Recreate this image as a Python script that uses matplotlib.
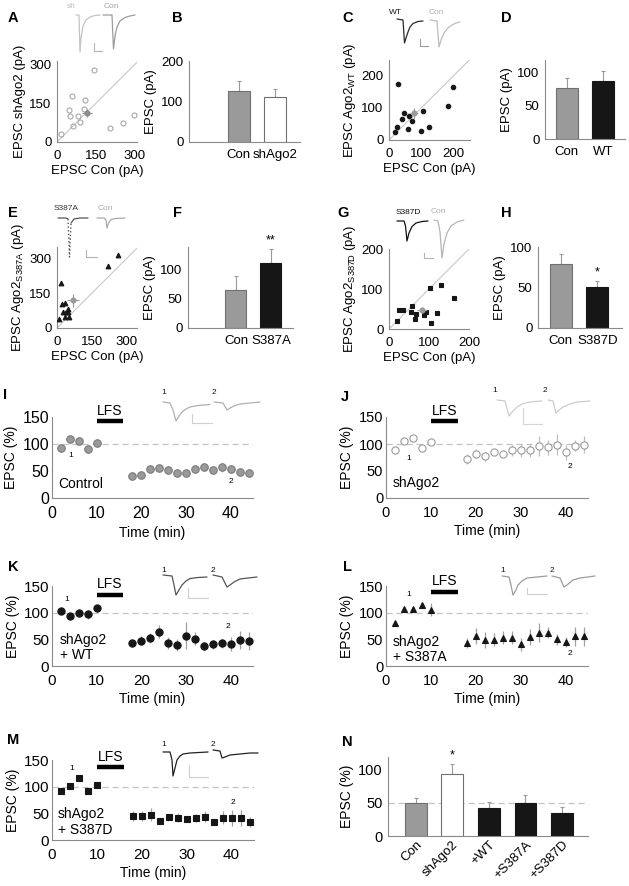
import matplotlib
matplotlib.use("Agg")
import matplotlib.pyplot as plt

plt.rcParams['font.family'] = ['Liberation Sans', 'DejaVu Sans']
plt.rcParams['mathtext.fontset'] = 'custom'
plt.rcParams['mathtext.rm'] = 'Liberation Sans'
plt.rcParams['mathtext.it'] = 'Liberation Sans'

# ---------------- data ----------------
A_con = [16, 145, 60, 47, 50, 108, 103, 83, 90, 63, 206, 256, 298]
A_sh = [33, 280, 177, 124, 100, 163, 130, 100, 77, 63, 55, 72, 104]
A_mean = [115, 113]
A_sem = [20, 16]

B_labels = ['Con', 'shAgo2']
B_vals = [125, 112]
B_err = [25, 20]

C_con = [29, 26, 18, 40, 47, 63, 58, 72, 105, 100, 124, 182, 198]
C_wt = [174, 40, 25, 65, 84, 74, 35, 60, 92, 29, 40, 105, 165]
C_mean = [78, 84]
C_sem = [13, 17]

D_labels = ['Con', 'WT']
D_vals = [76.5, 87.5]
D_err = [15, 14.5]

E_con = [19, 9, 23, 33, 26, 37, 46, 47, 36, 50, 221, 264]
E_a = [196, 40, 103, 106, 69, 71, 83, 69, 49, 47, 269, 314]
E_mean = [69, 119]
E_sem = [28, 30]

F_labels = ['Con', 'S387A']
F_vals = [66, 111]
F_err = [24, 25]

G_con = [21, 26, 36, 57, 55, 68, 66, 88, 93, 102, 130, 121, 104, 162]
G_d = [21, 48, 48, 57, 42, 38, 26, 36, 42, 103, 109, 40, 15, 78]
G_mean = [82, 48]
G_sem = [12, 8]

H_labels = ['Con', 'S387D']
H_vals = [80, 51]
H_err = [12, 8]

time_min = [2, 4, 6, 8, 10, 18, 20, 22, 24, 26, 28, 30, 32, 34, 36, 38, 40, 42, 44]
I_vals = [93, 109, 105, 91, 102, 40, 42, 54, 55, 51, 46, 47, 54, 57, 51, 57, 53, 48, 47]
I_err = [3, 3, 3, 3, 3, 4, 4, 5, 7, 5, 4, 4, 4, 6, 4, 8, 6, 5, 4]
J_vals = [89.5, 105, 112, 93, 104, 72, 82, 77, 86, 81, 88, 88, 88, 96, 94, 99, 85, 97, 99]
J_err = [3, 3, 3, 3, 3, 9, 8, 8, 5, 5, 10, 12, 12, 18, 14, 20, 14, 10, 16]
K_vals = [103, 94, 100, 97, 109, 43, 47.5, 53, 64, 43, 39, 57, 51, 37.5, 40.5, 42.5, 40.5, 48, 47.5]
K_err = [3, 3, 7, 8, 3, 8, 8, 9, 12, 11, 11, 26, 12, 8, 8, 9, 13, 17, 17]
L_vals = [81, 107.5, 106, 115, 105.5, 43, 55.5, 48, 49, 53, 53, 40.5, 54, 62.5, 62.5, 50, 45, 55.5, 55.5]
L_err = [2, 3, 3, 3, 12, 10, 15, 15, 12, 12, 12, 12, 15, 18, 10, 10, 10, 18, 18]
M_vals = [92, 101, 115.5, 92, 104, 45, 45, 47.5, 36, 43, 42, 39, 41, 44, 34, 42, 42, 42, 34]
M_err = [3, 3, 3, 3, 3, 10, 10, 12, 5, 5, 8, 6, 8, 10, 6, 12, 15, 15, 10]
LFS_span = [10, 16]

N_labels = ['Con', 'shAgo2', '+WT', '+S387A', '+S387D']
N_vals = [49, 94, 41.5, 50, 34]
N_err = [7.5, 14, 10, 12.5, 10]

# ---------------- layout helpers ----------------
W, H = 629, 886
fig = plt.figure(figsize=(W / 100, H / 100), dpi=100)

SPINE = '#8a8a8a'
GRAYBAR = '#9a9a9a'
BLACK = '#161616'


def add_ax(l, r, t, b):
    return fig.add_axes([l / W, 1 - b / H, (r - l) / W, (b - t) / H])


def style(ax, fs, xpad=5, ypad=3):
    for s in ('top', 'right'):
        ax.spines[s].set_visible(False)
    for s in ('left', 'bottom'):
        ax.spines[s].set_color(SPINE)
        ax.spines[s].set_linewidth(0.8)
    ax.tick_params(axis='both', length=0, labelsize=fs)
    ax.tick_params(axis='x', pad=xpad)
    ax.tick_params(axis='y', pad=ypad)


def scatter_panel(ax, x, y, mean, sem, lim, ticks, marker, face, edge, ms,
                  mcolor, xlabel, ylabel):
    ax.plot([0, lim[0]], [0, lim[0]], color='#c8c8c8', lw=0.8, zorder=1)
    ax.plot(x, y, linestyle='none', marker=marker, ms=ms, mfc=face, mec=edge,
            mew=0.8, zorder=3)
    ax.errorbar([mean[0]], [mean[1]], xerr=[sem[0]], yerr=[sem[1]], fmt='o',
                ms=3.4, color=mcolor, ecolor=mcolor, elinewidth=0.8, capsize=0,
                zorder=4)
    ax.set_xlim(0, lim[0])
    ax.set_ylim(0, lim[1])
    ax.set_xticks(ticks)
    ax.set_yticks(ticks)
    style(ax, 9.5, xpad=6, ypad=4)
    ax.set_xlabel(xlabel, fontsize=9.5, labelpad=2)
    ax.set_ylabel(ylabel, fontsize=9.5, labelpad=2)


def bar_panel(ax, labels, vals, errs, colors, edges, xlim, ylim, yticks,
              star=None, star_idx=None, rot=0):
    xs = list(range(len(vals)))
    ax.bar(xs, vals, width=0.6, color=colors, edgecolor=edges, linewidth=0.8,
           zorder=2)
    ax.errorbar(xs, vals, yerr=[[0] * len(vals), errs], fmt='none',
                ecolor='#9a9a9a', elinewidth=0.8, capsize=1.5, capthick=0.8,
                zorder=1)
    if star:
        ax.text(star_idx, vals[star_idx] + errs[star_idx] + ylim * 0.03, star,
                ha='center', va='bottom', fontsize=9)
    ax.set_xlim(*xlim)
    ax.set_ylim(0, ylim)
    ax.set_yticks(yticks)
    ax.set_xticks(xs)
    style(ax, 9.5, xpad=5, ypad=4)
    if rot:
        ax.set_xticklabels(labels, rotation=rot, ha='right',
                           rotation_mode='anchor')
    else:
        ax.set_xticklabels(labels)


def ltp_panel(ax, vals, errs, marker, face, edge, ecol, ms, note, note_xy,
              lab1, lab2, lfs_y, tick_fs=10.5):
    ax.axhline(100, color='#c4c4c4', lw=0.9, ls=(0, (5, 3)), zorder=1)
    ax.errorbar(time_min, vals, yerr=errs, fmt='none', ecolor=ecol,
                elinewidth=0.9, capsize=0, zorder=2)
    ax.plot(time_min, vals, linestyle='none', marker=marker, ms=ms, mfc=face,
            mec=edge, mew=0.8, zorder=3)
    ax.plot(LFS_span, [lfs_y, lfs_y], color='black', lw=3.2,
            solid_capstyle='butt', clip_on=False)
    ax.text(sum(LFS_span) / 2, lfs_y + 7, 'LFS', ha='center', va='bottom',
            fontsize=10)
    ax.text(note_xy[0], note_xy[1], note, ha='left', va='center',
            fontsize=10, linespacing=1.15)
    ax.text(lab1[0], lab1[1], '1', ha='center', va='center', fontsize=6)
    ax.text(lab2[0], lab2[1], '2', ha='center', va='center', fontsize=6)
    ax.set_xlim(0, 45)
    ax.set_ylim(0, 150)
    ax.set_xticks([0, 10, 20, 30, 40])
    ax.set_yticks([0, 50, 100, 150])
    style(ax, tick_fs, xpad=6, ypad=2)
    ax.set_ylabel('EPSC (%)', fontsize=10, labelpad=3)
    ax.set_xlabel('Time (min)', fontsize=10, labelpad=3)


# ---------------- panels ----------------
axA = add_ax(57, 137, 61, 142)
scatter_panel(axA, A_con, A_sh, A_mean, A_sem, (310, 315), [0, 150, 300],
              'o', 'none', '#a8a8a8', 3.6, '#8c8c8c',
              'EPSC Con (pA)', 'EPSC shAgo2 (pA)')

axB = add_ax(189, 300, 61, 142)
bar_panel(axB, B_labels, B_vals, B_err, [GRAYBAR, 'white'], ['#707070', '#707070'],
          (-1.35, 1.67), 200, [0, 100, 200])
axB.set_ylabel('EPSC (pA)', fontsize=9.5, labelpad=3)

axC = add_ax(389, 470, 60, 140)
scatter_panel(axC, C_con, C_wt, C_mean, C_sem, (252, 250), [0, 100, 200],
              'o', BLACK, BLACK, 3.2, '#9a9a9a',
              'EPSC Con (pA)', r'EPSC Ago2$_{\mathregular{WT}}$ (pA)')

axD = add_ax(545, 625, 60, 139)
bar_panel(axD, D_labels, D_vals, D_err, [GRAYBAR, BLACK], ['#707070', BLACK],
          (-0.59, 1.59), 119, [0, 50, 100])
axD.set_ylabel('EPSC (pA)', fontsize=9.5, labelpad=3)

axE = add_ax(57, 137, 247, 328)
scatter_panel(axE, E_con, E_a, E_mean, E_sem, (345, 350), [0, 150, 300],
              '^', BLACK, BLACK, 3.4, '#9a9a9a',
              'EPSC Con (pA)', r'EPSC Ago2$_{\mathregular{S387A}}$ (pA)')

axF = add_ax(188, 293, 247, 328)
bar_panel(axF, F_labels, F_vals, F_err, [GRAYBAR, BLACK], ['#707070', BLACK],
          (-1.37, 1.63), 139, [0, 50, 100], star='**', star_idx=1)
axF.set_ylabel('EPSC (pA)', fontsize=9.5, labelpad=3)

axG = add_ax(389, 469, 249, 329)
scatter_panel(axG, G_con, G_d, G_mean, G_sem, (200, 200), [0, 100, 200],
              's', BLACK, BLACK, 3.2, '#9a9a9a',
              'EPSC Con (pA)', r'EPSC Ago2$_{\mathregular{S387D}}$ (pA)')

axH = add_ax(538, 622, 247, 328)
bar_panel(axH, H_labels, H_vals, H_err, [GRAYBAR, BLACK], ['#707070', BLACK],
          (-0.62, 1.67), 101, [0, 50, 100], star='*', star_idx=1)
axH.set_ylabel('EPSC (pA)', fontsize=9.5, labelpad=3)

axI = add_ax(52, 253, 417, 498)
ltp_panel(axI, I_vals, I_err, 'o', '#9a9a9a', '#7a7a7a', '#b0b0b0', 5.4,
          'Control', (1.3, 26.5), (4.1, 79), (40.1, 30), 142, tick_fs=11.5)

axJ = add_ax(386, 588, 417, 498)
ltp_panel(axJ, J_vals, J_err, 'o', 'white', '#9a9a9a', '#bdbdbd', 5.2,
          'shAgo2', (1.5, 28), (5, 74), (41, 59), 142, tick_fs=10.5)

axK = add_ax(52, 253, 586, 666)
ltp_panel(axK, K_vals, K_err, 'o', BLACK, BLACK, '#a0a0a0', 5.2,
          'shAgo2\n+ WT', (1.7, 35), (3.4, 125), (39.4, 74), 134, tick_fs=11)

axL = add_ax(386, 588, 586, 666)
ltp_panel(axL, L_vals, L_err, '^', BLACK, BLACK, '#a0a0a0', 5.0,
          'shAgo2\n+ S387A', (1.5, 31), (5, 134), (41, 23), 139, tick_fs=10.5)

axM = add_ax(52, 254, 760, 840)
ltp_panel(axM, M_vals, M_err, 's', BLACK, BLACK, '#a0a0a0', 4.4,
          'shAgo2\n+ S387D', (1.3, 34), (4.3, 134), (40.4, 71), 136, tick_fs=11)

axN = add_ax(388, 588, 757, 836)
bar_panel(axN, N_labels, N_vals, N_err,
          [GRAYBAR, 'white', BLACK, BLACK, BLACK],
          ['#707070', '#707070', BLACK, BLACK, BLACK],
          (-0.76, 4.71), 119, [0, 50, 100], star='*', star_idx=1, rot=45)
axN.axhline(50, color='#c4c4c4', lw=0.9, ls=(0, (5, 3)), zorder=0)
axN.set_ylabel('EPSC (%)', fontsize=10, labelpad=3)
axN.tick_params(axis='y', labelsize=10.5)
axN.tick_params(axis='x', labelsize=9.5, pad=2)

# ---------------- panel letters ----------------
letters = [('A', 13, 18), ('B', 177, 18), ('C', 348, 18), ('D', 506, 18),
           ('E', 13, 213), ('F', 177, 213), ('G', 343, 213), ('H', 506, 213),
           ('I', 5, 395), ('J', 345, 397), ('K', 13, 567), ('L', 347, 567),
           ('M', 13, 740), ('N', 347, 742)]
for t, x, y in letters:
    fig.text(x / W, 1 - y / H, t, fontsize=10.5, fontweight='bold',
             ha='center', va='center')

# ---------------- example traces (figure pixel overlay) ----------------
ov = fig.add_axes([0, 0, 1, 1], zorder=5)
ov.set_xlim(0, W)
ov.set_ylim(H, 0)
ov.axis('off')


def trace(pts, color, lw=0.9, ls='-'):
    ov.plot([p[0] for p in pts], [p[1] for p in pts], color=color, lw=lw,
            ls=ls, solid_joinstyle='round', solid_capstyle='round')


def scalebar(x, y0, y1, x1, color='#b5b5b5'):
    ov.plot([x, x, x1], [y0, y1, y1], color=color, lw=0.8)


def tlabel(x, y, s, color, fs=6):
    ov.text(x, y, s, color=color, fontsize=fs, ha='center', va='center')


# A
tlabel(71, 6, 'sh', '#bdbdbd')
tlabel(111, 6, 'Con', '#a5a5a5')
trace([(76, 15), (79, 15), (80, 52), (81, 38), (83, 26), (86, 20), (90, 17),
       (95, 15.5), (100, 15)], '#c4c4c4')
trace([(103, 15), (112, 15), (113.5, 49), (115, 36), (117, 27), (120, 21),
       (125, 17.5), (130, 16), (135, 15)], '#9c9c9c')
scalebar(94, 43, 51, 102)

# C
tlabel(395, 12, 'WT', '#111111')
tlabel(436, 12, 'Con', '#b0b0b0')
trace([(397, 19), (403, 20), (404.5, 43), (406, 38), (408, 32), (410, 27),
       (413, 23.5), (418, 21.5), (423, 21)], '#2a2a2a')
trace([(430, 20), (437, 21), (439, 47), (441, 40), (444, 33), (448, 28),
       (452, 25), (456, 23), (460, 22)], '#bdbdbd')
scalebar(420, 39, 46, 428, '#9a9a9a')

# E
tlabel(66, 208, 'S387A', '#333333')
tlabel(105, 208, 'Con', '#ababab')
trace([(58, 218), (66, 218), (68, 219)], '#555555')
trace([(68, 219), (69.5, 257), (71, 223)], '#555555', lw=1.0, ls=':')
trace([(71, 223), (74, 219), (80, 218), (88, 218)], '#555555')
trace([(97, 218), (104, 218), (106, 220), (107, 228), (108.5, 223),
       (111, 219.5), (115, 218.5), (125, 218)], '#aaaaaa')
scalebar(86, 250, 257, 97)

# G
tlabel(408, 212, 'S387D', '#111111')
tlabel(438, 211, 'Con', '#b0b0b0')
trace([(397, 221), (404, 221), (405.5, 226), (407, 241), (409, 233),
       (412, 226.5), (416, 223), (422, 221.5), (428, 221)], '#111111')
trace([(434, 220), (438, 221), (440, 232), (442, 258), (444, 244),
       (447, 233), (451, 226), (457, 222), (464, 220)], '#b5b5b5')
scalebar(424, 253, 258, 433)

# I
tlabel(164, 392, '1', '#111111')
tlabel(214, 392, '2', '#111111')
trace([(163, 402), (170, 403), (173, 410), (176, 421), (179, 416), (182, 412),
       (186, 409), (190, 407), (198, 405.5), (210, 404.5)], '#b0b0b0')
trace([(214, 402), (223, 403), (227, 410), (230, 408), (234, 406), (240, 404),
       (250, 403), (260, 402)], '#b0b0b0')
scalebar(192, 414, 423, 212, '#cfcfcf')

# J
tlabel(495, 390, '1', '#111111')
tlabel(545, 390, '2', '#111111')
trace([(497, 400), (505, 401), (509, 416), (513, 411), (517, 407), (522, 404),
       (527, 402.5), (535, 401.5), (542, 401)], '#cccccc')
trace([(548, 400), (553, 401), (556, 413), (559, 410), (563, 407), (570, 404),
       (577, 402), (590, 401)], '#cccccc')
scalebar(523, 408, 424, 542, '#d5d5d5')

# K
tlabel(164, 570, '1', '#111111')
tlabel(213, 570, '2', '#111111')
trace([(163, 575), (172, 576), (174, 585), (176, 595), (179, 590), (182, 585),
       (186, 581), (190, 578.5), (198, 577.5), (207, 577)], '#555555')
trace([(213, 575), (222, 577), (227, 587), (230, 585), (234, 582), (240, 579),
       (248, 578), (257, 577)], '#555555')
scalebar(188, 588, 598, 208, '#cfcfcf')

# L
tlabel(503, 570, '1', '#111111')
tlabel(552, 570, '2', '#111111')
trace([(502, 576), (509, 577), (511, 585), (513, 595), (516, 590), (518, 585),
       (522, 581), (527, 578), (537, 577), (547, 576)], '#9c9c9c')
trace([(552, 576), (560, 578), (564, 587), (567, 585), (573, 580), (580, 578),
       (588, 577), (595, 576)], '#9c9c9c')
scalebar(527, 588, 594, 547, '#cfcfcf')

# M
tlabel(164, 744, '1', '#111111')
tlabel(213, 744, '2', '#111111')
trace([(163, 752), (170, 752), (172, 760), (173, 776), (175, 768), (177, 760),
       (180, 756), (183, 754), (190, 753), (208, 752)], '#222222')
trace([(213, 750), (220, 751), (222, 758), (225, 757), (230, 755), (240, 754),
       (250, 753), (258, 753)], '#222222')
scalebar(189, 765, 777, 208, '#cfcfcf')

fig.savefig('out.png', dpi=100)
